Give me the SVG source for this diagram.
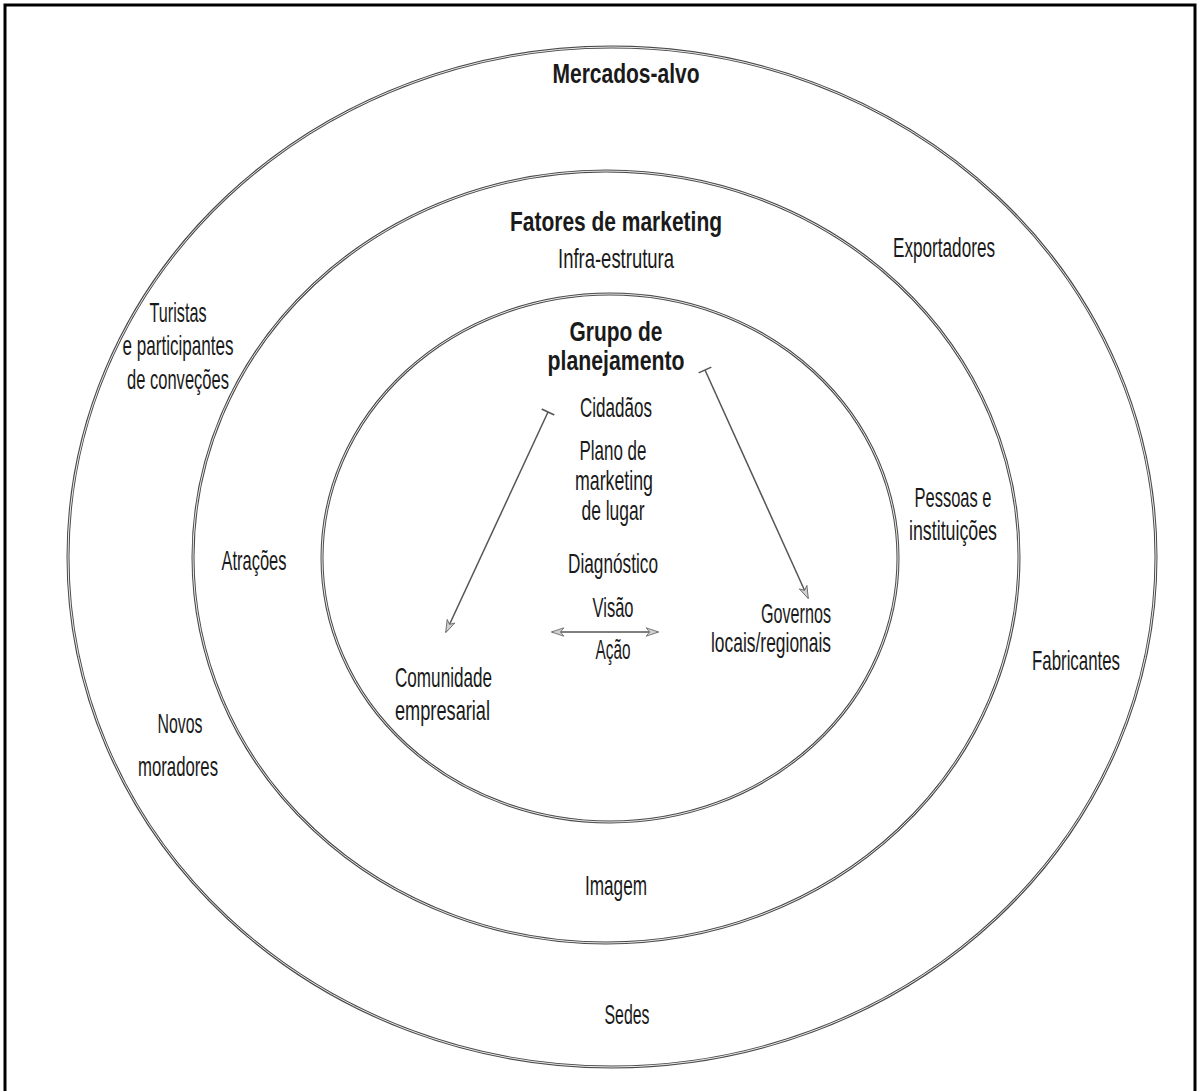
<svg xmlns="http://www.w3.org/2000/svg" width="1201" height="1091" viewBox="0 0 1201 1091">
<style>
text{font-family:"Liberation Sans","Arial",sans-serif;font-size:28px;fill:#1a1a1a}
.b{font-weight:bold}
.m{text-anchor:middle}
.e{text-anchor:end}
.ring{fill:none;stroke:#4a4a4a;stroke-width:3}
.ringin{fill:none;stroke:#fff;stroke-width:0.9}
.con{fill:none;stroke:#555;stroke-width:1.5}
</style>
<defs>
<marker id="ah" viewBox="0 0 20 14" refX="18" refY="7" markerWidth="14" markerHeight="10" markerUnits="userSpaceOnUse" orient="auto-start-reverse">
<path d="M1,1 L19,7 L1,13 L6,7 Z" fill="#d0d0d0" stroke="#666" stroke-width="1.2"/>
</marker>
<marker id="tick" viewBox="0 0 4 14" refX="2" refY="7" markerWidth="4" markerHeight="14" markerUnits="userSpaceOnUse" orient="auto">
<line x1="2" y1="0" x2="2" y2="14" stroke="#555" stroke-width="1.6"/>
</marker>
</defs>
<rect x="5" y="5" width="1190" height="1090" fill="#fff" stroke="#000" stroke-width="3"/>
<g id="ring-outer">
<ellipse class="ring" cx="612" cy="557" rx="544" ry="510"/>
<ellipse class="ringin" cx="612" cy="557" rx="544" ry="510"/>
</g>
<g id="ring-middle">
<ellipse class="ring" cx="606" cy="557" rx="413" ry="386"/>
<ellipse class="ringin" cx="606" cy="557" rx="413" ry="386"/>
</g>
<g id="ring-inner">
<ellipse class="ring" cx="610" cy="558" rx="288" ry="264"/>
<ellipse class="ringin" cx="610" cy="558" rx="288" ry="264"/>
</g>
<g id="connectors">
<line class="con" x1="548" y1="412" x2="446" y2="632" marker-start="url(#tick)" marker-end="url(#ah)"/>
<line class="con" x1="705" y1="370" x2="808" y2="598" marker-start="url(#tick)" marker-end="url(#ah)"/>
<line class="con" x1="552" y1="632" x2="658" y2="632" marker-start="url(#ah)" marker-end="url(#ah)"/>
</g>
<g id="mercados-alvo">
<text class="b m" x="626" y="83" textLength="147" lengthAdjust="spacingAndGlyphs">Mercados-alvo</text>
</g>
<g id="fatores">
<text class="b m" x="616" y="231" textLength="212" lengthAdjust="spacingAndGlyphs">Fatores de marketing</text>
</g>
<g id="infra">
<text class="m" x="616" y="268" textLength="116" lengthAdjust="spacingAndGlyphs">Infra-estrutura</text>
</g>
<g id="grupo">
<text class="b m" x="616" y="341" textLength="93" lengthAdjust="spacingAndGlyphs">Grupo de</text>
<text class="b m" x="616" y="370" textLength="137" lengthAdjust="spacingAndGlyphs">planejamento</text>
</g>
<g id="cidadaos">
<text class="m" x="616" y="417" textLength="72" lengthAdjust="spacingAndGlyphs">Cidadãos</text>
</g>
<g id="plano">
<text class="m" x="613" y="460" textLength="67" lengthAdjust="spacingAndGlyphs">Plano de</text>
<text class="m" x="614" y="490" textLength="78" lengthAdjust="spacingAndGlyphs">marketing</text>
<text class="m" x="613" y="520" textLength="63" lengthAdjust="spacingAndGlyphs">de lugar</text>
</g>
<g id="diagnostico">
<text class="m" x="613" y="573" textLength="90" lengthAdjust="spacingAndGlyphs">Diagnóstico</text>
</g>
<g id="visao">
<text class="m" x="613" y="617" textLength="41" lengthAdjust="spacingAndGlyphs">Visão</text>
</g>
<g id="acao">
<text class="m" x="613" y="659" textLength="35" lengthAdjust="spacingAndGlyphs">Ação</text>
</g>
<g id="governos">
<text class="e" x="831" y="623" textLength="70" lengthAdjust="spacingAndGlyphs">Governos</text>
<text class="e" x="831" y="652" textLength="120" lengthAdjust="spacingAndGlyphs">locais/regionais</text>
</g>
<g id="comunidade">
<text x="395" y="687" textLength="97" lengthAdjust="spacingAndGlyphs">Comunidade</text>
<text x="395" y="720" textLength="95" lengthAdjust="spacingAndGlyphs">empresarial</text>
</g>
<g id="atracoes">
<text class="m" x="254" y="570" textLength="65" lengthAdjust="spacingAndGlyphs">Atrações</text>
</g>
<g id="turistas">
<text class="m" x="178" y="322" textLength="57" lengthAdjust="spacingAndGlyphs">Turistas</text>
<text class="m" x="178" y="355" textLength="111" lengthAdjust="spacingAndGlyphs">e participantes</text>
<text class="m" x="178" y="389" textLength="102" lengthAdjust="spacingAndGlyphs">de conveções</text>
</g>
<g id="novos">
<text class="m" x="180" y="733" textLength="45" lengthAdjust="spacingAndGlyphs">Novos</text>
<text class="m" x="178" y="776" textLength="80" lengthAdjust="spacingAndGlyphs">moradores</text>
</g>
<g id="exportadores">
<text class="m" x="944" y="257" textLength="102" lengthAdjust="spacingAndGlyphs">Exportadores</text>
</g>
<g id="pessoas">
<text class="m" x="953" y="507" textLength="77" lengthAdjust="spacingAndGlyphs">Pessoas e</text>
<text class="m" x="953" y="540" textLength="88" lengthAdjust="spacingAndGlyphs">instituições</text>
</g>
<g id="fabricantes">
<text class="m" x="1076" y="670" textLength="88" lengthAdjust="spacingAndGlyphs">Fabricantes</text>
</g>
<g id="imagem">
<text class="m" x="616" y="895" textLength="62" lengthAdjust="spacingAndGlyphs">Imagem</text>
</g>
<g id="sedes">
<text class="m" x="627" y="1024" textLength="45" lengthAdjust="spacingAndGlyphs">Sedes</text>
</g>
</svg>
